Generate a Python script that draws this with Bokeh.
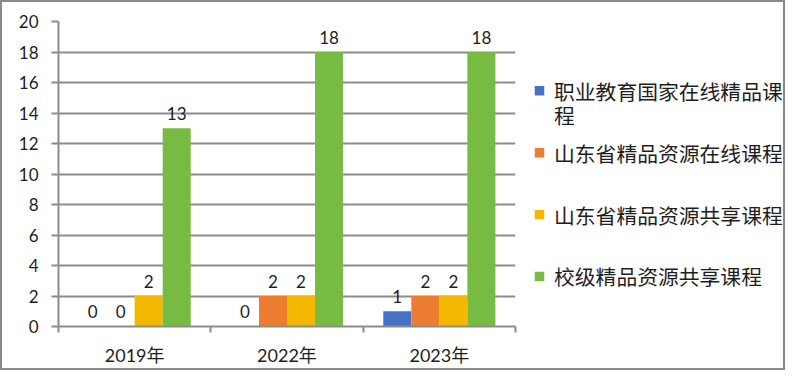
from bokeh.plotting import figure
from bokeh.models import Range1d, FixedTicker, ColumnDataSource
from bokeh.layouts import row
from bokeh.transform import dodge
from bokeh.core.properties import value
from bokeh.embed import file_html
from bokeh.resources import INLINE

# ---- data ----
categories = ["2019年", "2022年", "2023年"]
series_names = ["职业教育国家在线精品课程", "山东省精品资源在线课程",
                "山东省精品资源共享课程", "校级精品资源共享课程"]
vocational_national = [0, 0, 1]
shandong_online = [0, 2, 2]
shandong_shared = [2, 2, 2]
school_shared = [13, 18, 18]
y_ticks = [0, 2, 4, 6, 8, 10, 12, 14, 16, 18, 20]

series_values = [vocational_national, shandong_online, shandong_shared, school_shared]
colors = ["#4472C4", "#ED7D31", "#F5B800", "#77BB43"]

GRAY = "#8c8c8c"
TEXT = "#1e1e1e"
NUM_FONT = "Lato, 'Noto Sans CJK SC'"
CJK_FONT = "Noto Sans CJK SC"

centers = [i + 0.5 for i in range(len(categories))]
data = {"x": centers}
for k, vals in enumerate(series_values):
    data[f"s{k}"] = vals
    data[f"s{k}_lbl"] = [str(v) for v in vals]
src = ColumnDataSource(data)

H = 366
B_TOP, B_BOT = 19, 39

# ---- main chart ----
p1 = figure(width=520, height=H, x_range=Range1d(0, len(categories)),
            y_range=Range1d(0, 20), output_backend="svg", toolbar_location=None,
            title=None, min_border_left=56, min_border_right=7,
            min_border_top=B_TOP, min_border_bottom=B_BOT)
p1.outline_line_color = None
p1.background_fill_color = "white"
p1.border_fill_color = "white"

bar_w = 0.184
n = len(series_values)
for k in range(n):
    off = (k - (n - 1) / 2) * bar_w
    p1.vbar(x=dodge("x", off), top=f"s{k}", width=bar_w, source=src,
            fill_color=colors[k], line_color=None)
    p1.text(x=dodge("x", off), y=f"s{k}", text=f"s{k}_lbl", source=src,
            text_align="center", text_baseline="alphabetic", y_offset=-15,
            text_font=value(NUM_FONT), text_font_size="17px", text_color=TEXT)

# y axis
p1.yaxis.ticker = FixedTicker(ticks=y_ticks)
p1.yaxis.axis_line_color = GRAY
p1.yaxis.axis_line_width = 2
p1.yaxis.major_tick_line_color = GRAY
p1.yaxis.major_tick_line_width = 2
p1.yaxis.major_tick_out = 7
p1.yaxis.major_tick_in = 0
p1.yaxis.minor_tick_line_color = None
p1.yaxis.major_label_standoff = 13
p1.yaxis.major_label_text_font = NUM_FONT
p1.yaxis.major_label_text_font_size = "17px"
p1.yaxis.major_label_text_color = TEXT

# x axis
p1.xaxis.ticker = FixedTicker(ticks=centers, minor_ticks=list(range(len(categories) + 1)))
p1.xaxis.major_label_overrides = {c: cat for c, cat in zip(centers, categories)}
p1.xaxis.axis_line_color = GRAY
p1.xaxis.axis_line_width = 2
p1.xaxis.major_tick_line_color = None
p1.xaxis.major_tick_out = 0
p1.xaxis.major_tick_in = 0
p1.xaxis.minor_tick_line_color = GRAY
p1.xaxis.minor_tick_line_width = 2
p1.xaxis.minor_tick_out = 6
p1.xaxis.minor_tick_in = 0
p1.xaxis.major_label_standoff = 11
p1.xaxis.major_label_text_font = NUM_FONT
p1.xaxis.major_label_text_font_size = "18px"
p1.xaxis.major_label_text_color = TEXT

p1.xgrid.visible = False
p1.ygrid.grid_line_color = GRAY
p1.ygrid.grid_line_width = 2

# ---- legend panel (frame aligned with main frame; data units = canvas px) ----
LW = 261
p2 = figure(width=LW, height=H, x_range=Range1d(0, LW),
            y_range=Range1d(H - B_BOT, B_TOP),
            output_backend="svg", toolbar_location=None, title=None,
            x_axis_type=None, y_axis_type=None,
            min_border_left=0, min_border_right=0,
            min_border_top=B_TOP, min_border_bottom=B_BOT)
p2.outline_line_color = None
p2.grid.visible = False
p2.border_fill_color = "white"

legend_y = [89, 151.5, 214, 276.5]
line_h = 24.5
max_chars = 11
sq_x, sq_size, txt_x = 17, 9.5, 31.5

lx, ly, lt = [], [], []
for name, y0 in zip(series_names, legend_y):
    lines = [name[i:i + max_chars] for i in range(0, len(name), max_chars)]
    for j, ln in enumerate(lines):
        lx.append(txt_x)
        ly.append(y0 + j * line_h)
        lt.append(ln)

p2.rect(x=[sq_x] * n, y=legend_y, width=sq_size, height=sq_size,
        fill_color=colors, line_color=None)
p2.text(x=lx, y=ly, text=lt, text_align="left", text_baseline="middle",
        text_font=value(CJK_FONT), text_font_size="20.8px", text_color=TEXT)

layout = row(p1, p2, styles={"border": "2px solid #898989"})

open("out.html", "w").write(file_html(layout, INLINE))
